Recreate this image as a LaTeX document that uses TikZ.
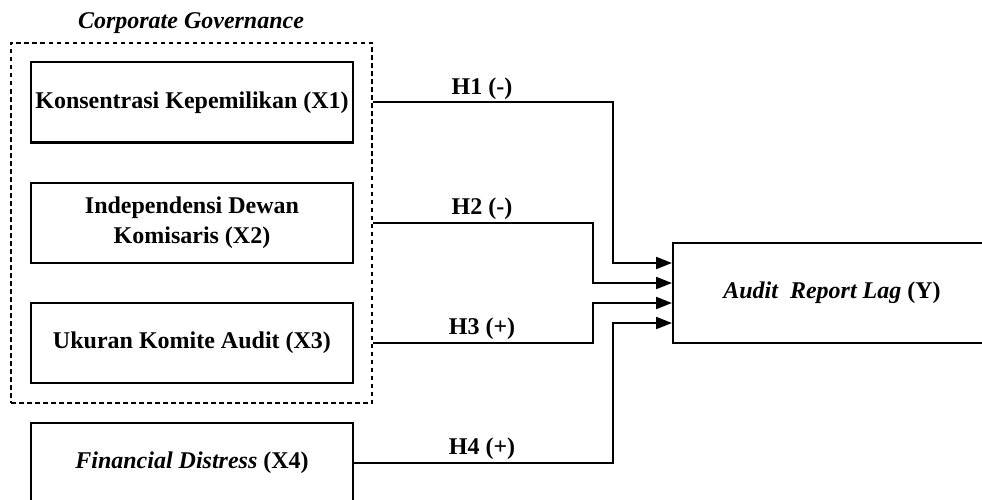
\documentclass[tikz,border=0pt]{standalone}
\usepackage{fontspec}
\setmainfont{Liberation Serif}
\usetikzlibrary{arrows.meta,calc}
\begin{document}
\begin{tikzpicture}[x=1pt,y=-1pt,
  txt/.style={font=\fontsize{24}{30}\selectfont\bfseries},
  box/.style={draw,line width=2pt,minimum width=322pt,minimum height=80pt,align=center,inner sep=0pt,txt},
  lbl/.style={txt,inner sep=0pt,anchor=base},
  group/.style={draw,line width=1.5pt,dash pattern=on 4.5pt off 3.5pt,minimum width=361pt,minimum height=360pt,inner sep=0pt},
  arr/.style={line width=2pt,-{Triangle[length=16pt,width=12pt]}}]
\path[use as bounding box] (0,0) rectangle (982,500);
\clip (0,0) rectangle (982,500);

\node[group] (cg) at (191.5,223) {};
\node[lbl] (cgt) at (191,29) {\itshape Corporate Governance};

\node[box] (X1) at (192,102.5) {Konsentrasi Kepemilikan (X1)};
\node[box] (X2) at (192,223) {Independensi Dewan\\Komisaris (X2)};
\node[box] (X3) at (192,343) {Ukuran Komite Audit (X3)};
\node[box] (X4) at (192,463) {\textit{Financial Distress} (X4)};

\node[box,minimum width=318pt,minimum height=100pt] (Y) at (832,293) {\textit{Audit\ \ Report Lag} (Y)};

\coordinate (a1) at ($(Y.west)+(0,-30)$);
\coordinate (a2) at ($(Y.west)+(0,-10)$);
\coordinate (a3) at ($(Y.west)+(0,10)$);
\coordinate (a4) at ($(Y.west)+(0,30)$);
\coordinate (b1) at (613,0);
\coordinate (b2) at (593,0);

\draw[arr] (X1 -| cg.east) -| (b1 |- a1) -- (a1);
\draw[arr] (X2 -| cg.east) -| (b2 |- a2) -- (a2);
\draw[arr] (X3 -| cg.east) -| (b2 |- a3) -- (a3);
\draw[arr] (X4.east) -| (b1 |- a4) -- (a4);

\node[lbl] (h1) at (482,94.5) {H1 (-)};
\node[lbl] (h2) at (482,214.5) {H2 (-)};
\node[lbl] (h3) at (482,334.5) {H3 (+)};
\node[lbl] (h4) at (482,454.5) {H4 (+)};
\end{tikzpicture}
\end{document}
